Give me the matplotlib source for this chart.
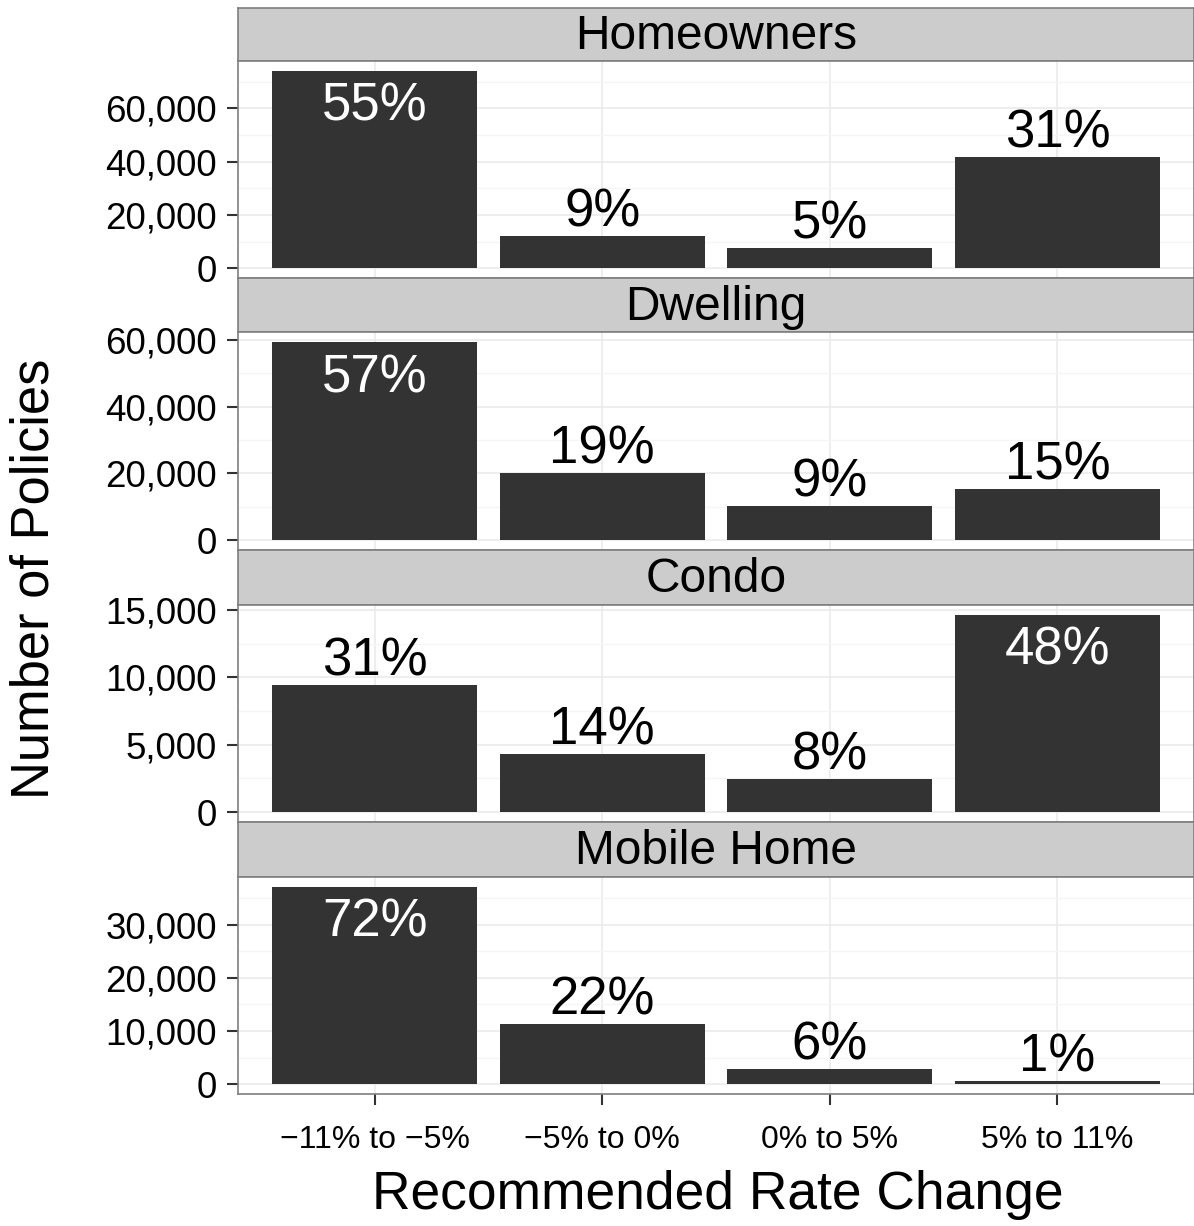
import numpy as np
import matplotlib
matplotlib.use('Agg')
import matplotlib.pyplot as plt
from matplotlib.ticker import MultipleLocator, FuncFormatter

plt.rcParams['font.family'] = ['Liberation Sans', 'DejaVu Sans']

# data
categories = ['\u221211% to \u22125%', '\u22125% to 0%', '0% to 5%', '5% to 11%']
panels = ['Homeowners', 'Dwelling', 'Condo', 'Mobile Home']
homeowners = [74100, 11900, 7450, 41700]
dwelling = [59400, 20000, 10150, 15200]
condo = [9400, 4340, 2430, 14630]
mobile_home = [37150, 11250, 2800, 560]
pct_homeowners = ['55%', '9%', '5%', '31%']
pct_dwelling = ['57%', '19%', '9%', '15%']
pct_condo = ['31%', '14%', '8%', '48%']
pct_mobile_home = ['72%', '22%', '6%', '1%']
y_steps = [20000, 20000, 5000, 10000]

values = [homeowners, dwelling, condo, mobile_home]
pcts = [pct_homeowners, pct_dwelling, pct_condo, pct_mobile_home]

W, H = 1194, 1226
fig = plt.figure(figsize=(W / 100, H / 100), dpi=100)

left, right = 238, 1194
# (strip top, panel top, panel bottom) in pixels
rows = [(8, 61, 278), (278, 332, 550), (550, 605, 822), (822, 877, 1094)]

border = '#7F7F7F'
x = np.arange(len(categories))

for i, (name, vals, pc, step) in enumerate(zip(panels, values, pcts, y_steps)):
    s_top, p_top, p_bot = rows[i]
    # strip
    sax = fig.add_axes([left / W, 1 - p_top / H, (right - left) / W, (p_top - s_top) / H])
    sax.set_facecolor('#CCCCCC')
    sax.set_xticks([]); sax.set_yticks([])
    for sp in sax.spines.values():
        sp.set_color(border); sp.set_linewidth(1.2)
    sax.text(0.5, 0.46, name, ha='center', va='center', fontsize=34.5, transform=sax.transAxes)

    ax = fig.add_axes([left / W, 1 - p_bot / H, (right - left) / W, (p_bot - p_top) / H])
    ax.bar(x, vals, width=0.9, color='#333333', zorder=3)
    ax.use_sticky_edges = False
    ymax = max(vals)
    ax.set_ylim(-0.05 * ymax, 1.05 * ymax)
    ax.set_xlim(-0.6, 3.6)
    ax.yaxis.set_major_locator(MultipleLocator(step))
    ax.yaxis.set_minor_locator(MultipleLocator(step / 2))
    ax.yaxis.set_major_formatter(FuncFormatter(lambda v, p: f'{int(v):,}'))
    ax.set_xticks(x)
    ax.grid(True, which='major', color='#EBEBEB', linewidth=1.2, zorder=0)
    ax.grid(True, which='minor', axis='y', color='#F5F5F5', linewidth=1.0, zorder=0)
    ax.set_axisbelow(True)
    ax.tick_params(axis='y', which='major', labelsize=26.5, length=8, width=1.5,
                   color='#333333', pad=7)
    ax.tick_params(axis='y', which='minor', length=0)
    if i == len(panels) - 1:
        ax.set_xticklabels(categories)
        ax.tick_params(axis='x', labelsize=23, length=8, width=1.5, color='#333333', pad=14)
    else:
        ax.tick_params(axis='x', length=0, labelbottom=False)
    for sp in ax.spines.values():
        sp.set_color(border); sp.set_linewidth(1.2)

    top_idx = int(np.argmax(vals))
    for j, (v, lab) in enumerate(zip(vals, pc)):
        if j == top_idx:
            ax.annotate(lab, (j, v), xytext=(0, -8), textcoords='offset points',
                        ha='center', va='top', color='white', fontsize=38, zorder=4)
        else:
            ax.annotate(lab, (j, v), xytext=(0, -1), textcoords='offset points',
                        ha='center', va='bottom', color='black', fontsize=38, zorder=4)

fig.text(718 / W, 1 - 1195 / H, 'Recommended Rate Change', ha='center', va='center', fontsize=38.4)
fig.text(35 / W, 1 - 579 / H, 'Number of Policies', ha='center', va='center',
         rotation=90, fontsize=37.8)

fig.savefig('out.png', dpi=100, facecolor='white')
